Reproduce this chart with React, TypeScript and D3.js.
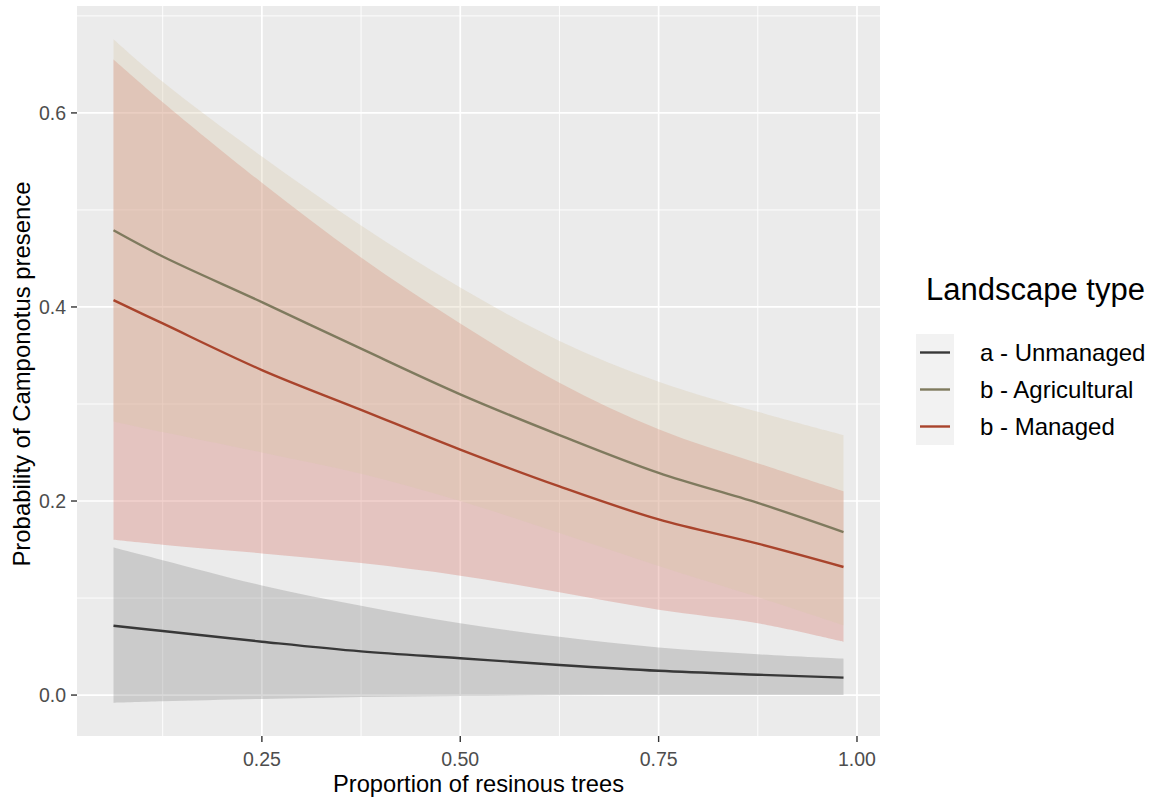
import React from "react";
import * as d3 from "d3";

// Proportion of resinous trees at which the model predictions were evaluated
const resinous = [0.063, 0.125, 0.25, 0.375, 0.5, 0.625, 0.75, 0.875, 0.983];

// Predicted probability and 95% confidence bounds, one set per landscape type
const unmanagedFit = [0.0715, 0.066, 0.055, 0.045, 0.038, 0.031, 0.025, 0.021, 0.018];
const unmanagedLow = [-0.008, -0.0065, -0.004, -0.002, -0.001, -0.0003, 0, 0, 0];
const unmanagedHigh = [0.152, 0.139, 0.113, 0.092, 0.074, 0.06, 0.049, 0.042, 0.0375];

const agriculturalFit = [0.479, 0.452, 0.405, 0.357, 0.31, 0.268, 0.229, 0.198, 0.168];
const agriculturalLow = [0.282, 0.271, 0.25, 0.228, 0.2, 0.167, 0.133, 0.101, 0.072];
const agriculturalHigh = [0.676, 0.632, 0.555, 0.484, 0.42, 0.365, 0.323, 0.292, 0.268];

const managedFit = [0.407, 0.383, 0.335, 0.294, 0.253, 0.215, 0.181, 0.156, 0.132];
const managedLow = [0.16, 0.155, 0.146, 0.136, 0.123, 0.106, 0.088, 0.074, 0.055];
const managedHigh = [0.655, 0.611, 0.528, 0.451, 0.383, 0.322, 0.274, 0.239, 0.21];

const landscapeLabels = ["a - Unmanaged", "b - Agricultural", "b - Managed"];
const xTicks = [0.25, 0.5, 0.75, 1.0];
const yTicks = [0.0, 0.2, 0.4, 0.6];

const lineColors = ["#383838", "#7f7a5e", "#a9442c"];
const ribbonColors = ["#808080", "#d7c6a5", "#d4695c"];
const ribbonOpacity = 0.3;

const W = 1165;
const H = 801;
const panel = { left: 77, right: 880, top: 6, bottom: 736 };
const FONT = "'Liberation Sans', Arial, sans-serif";

type Pt = { x: number; fit: number; lo: number; hi: number };

function series(fit: number[], lo: number[], hi: number[]): Pt[] {
  return resinous.map((x, i) => ({ x, fit: fit[i], lo: lo[i], hi: hi[i] }));
}

const groups: Pt[][] = [
  series(unmanagedFit, unmanagedLow, unmanagedHigh),
  series(agriculturalFit, agriculturalLow, agriculturalHigh),
  series(managedFit, managedLow, managedHigh),
];

// ggplot-style 5% expansion of the data range
function expand([a, b]: [number, number]): [number, number] {
  const pad = (b - a) * 0.05;
  return [a - pad, b + pad];
}

export default function App() {
  const xExt = d3.extent(resinous) as [number, number];
  const allY = groups.flatMap((g) => g.flatMap((p) => [p.lo, p.hi]));
  const yExt = d3.extent(allY) as [number, number];

  const x = d3.scaleLinear().domain(expand(xExt)).range([panel.left, panel.right]);
  const y = d3.scaleLinear().domain(expand(yExt)).range([panel.bottom, panel.top]);

  const curve = d3.curveCatmullRom.alpha(0.5);
  const area = d3
    .area<Pt>()
    .x((d) => x(d.x))
    .y0((d) => y(d.lo))
    .y1((d) => y(d.hi))
    .curve(curve);
  const line = d3
    .line<Pt>()
    .x((d) => x(d.x))
    .y((d) => y(d.fit))
    .curve(curve);

  const xMinor = [0.125, 0.375, 0.625, 0.875].filter((v) => x(v) > panel.left && x(v) < panel.right);
  const yMinor = [0.1, 0.3, 0.5, 0.7].filter((v) => y(v) > panel.top && y(v) < panel.bottom);

  // draw order: unmanaged, managed, then agricultural ribbons
  const ribbonOrder = [0, 2, 1];

  const legendX = 916;
  const keyTop = 334;
  const keyH = 37;
  const keyW = 38;

  return (
    <svg
      width={W}
      height={H}
      style={{ position: "absolute", left: 0, top: 0, background: "#ffffff" }}
      fontFamily={FONT}
    >
      <defs>
        <clipPath id="panel-clip">
          <rect x={panel.left} y={panel.top} width={panel.right - panel.left} height={panel.bottom - panel.top} />
        </clipPath>
      </defs>

      {/* panel background and grid */}
      <rect x={panel.left} y={panel.top} width={panel.right - panel.left} height={panel.bottom - panel.top} fill="#ebebeb" />
      <g stroke="#ffffff">
        {yMinor.map((v) => (
          <line key={"ym" + v} x1={panel.left} x2={panel.right} y1={y(v)} y2={y(v)} strokeWidth={0.9} />
        ))}
        {xMinor.map((v) => (
          <line key={"xm" + v} y1={panel.top} y2={panel.bottom} x1={x(v)} x2={x(v)} strokeWidth={0.9} />
        ))}
        {yTicks.map((v) => (
          <line key={"yM" + v} x1={panel.left} x2={panel.right} y1={y(v)} y2={y(v)} strokeWidth={1.7} />
        ))}
        {xTicks.map((v) => (
          <line key={"xM" + v} y1={panel.top} y2={panel.bottom} x1={x(v)} x2={x(v)} strokeWidth={1.7} />
        ))}
      </g>

      {/* confidence ribbons and fitted lines */}
      <g clipPath="url(#panel-clip)">
        {ribbonOrder.map((i) => (
          <path key={"r" + i} d={area(groups[i]) || ""} fill={ribbonColors[i]} fillOpacity={ribbonOpacity} />
        ))}
        {groups.map((g, i) => (
          <path key={"l" + i} d={line(g) || ""} fill="none" stroke={lineColors[i]} strokeWidth={2.4} />
        ))}
      </g>

      {/* y axis */}
      <g>
        {yTicks.map((v) => (
          <g key={"yt" + v}>
            <line x1={panel.left - 6} x2={panel.left} y1={y(v)} y2={y(v)} stroke="#333333" strokeWidth={1.4} />
            <text
              x={panel.left - 11}
              y={y(v)}
              textAnchor="end"
              dominantBaseline="central"
              fontSize={19.5}
              fill="#4d4d4d"
            >
              {d3.format(".1f")(v)}
            </text>
          </g>
        ))}
      </g>

      {/* x axis */}
      <g>
        {xTicks.map((v) => (
          <g key={"xt" + v}>
            <line x1={x(v)} x2={x(v)} y1={panel.bottom} y2={panel.bottom + 6} stroke="#333333" strokeWidth={1.4} />
            <text x={x(v)} y={panel.bottom + 30} textAnchor="middle" fontSize={19.5} fill="#4d4d4d">
              {d3.format(".2f")(v)}
            </text>
          </g>
        ))}
      </g>

      {/* axis titles */}
      <text x={(panel.left + panel.right) / 2} y={792} textAnchor="middle" fontSize={23.7} fill="#000000">
        Proportion of resinous trees
      </text>
      <text
        transform={`translate(30, ${(panel.top + panel.bottom) / 2 + 3}) rotate(-90)`}
        textAnchor="middle"
        fontSize={23.9}
        fill="#000000"
      >
        Probability of Camponotus presence
      </text>

      {/* legend */}
      <text x={926} y={300} fontSize={31} fill="#000000">
        Landscape type
      </text>
      {landscapeLabels.map((lab, i) => {
        const top = keyTop + i * keyH;
        const cy = top + keyH / 2;
        return (
          <g key={"lg" + i}>
            <rect x={legendX} y={top} width={keyW} height={keyH} fill="#f2f2f2" />
            <line x1={legendX + 4} x2={legendX + keyW - 4} y1={cy} y2={cy} stroke={lineColors[i]} strokeWidth={2.4} />
            <text x={980} y={cy} dominantBaseline="central" fontSize={24} fill="#000000">
              {lab}
            </text>
          </g>
        );
      })}
    </svg>
  );
}
